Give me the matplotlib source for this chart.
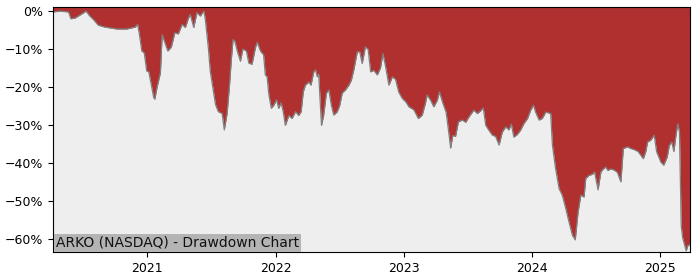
import matplotlib
matplotlib.use("Agg")
import matplotlib.pyplot as plt
import matplotlib.dates as mdates
from matplotlib.ticker import FuncFormatter, FixedLocator
from matplotlib.transforms import offset_copy
import pandas as pd

title = "ARKO (NASDAQ) - Drawdown Chart"

dates = [
    "2020-04-07", "2020-04-27", "2020-05-21", "2020-05-28", "2020-06-09", "2020-07-02",
    "2020-07-10", "2020-07-21", "2020-07-31", "2020-08-14", "2020-09-02", "2020-10-06",
    "2020-11-03", "2020-11-27", "2020-12-04", "2020-12-09", "2020-12-16", "2020-12-23",
    "2020-12-30",
    "2021-01-05", "2021-01-10", "2021-01-19", "2021-01-22", "2021-01-29", "2021-02-07",
    "2021-02-12", "2021-02-28", "2021-03-10", "2021-03-20", "2021-03-30", "2021-04-10",
    "2021-04-19", "2021-04-28", "2021-05-03", "2021-05-13", "2021-05-22", "2021-06-01",
    "2021-06-07", "2021-06-11", "2021-06-15", "2021-06-24", "2021-06-29", "2021-07-08",
    "2021-07-14", "2021-07-22", "2021-08-02", "2021-08-08", "2021-08-16", "2021-08-23",
    "2021-08-28", "2021-09-02", "2021-09-07", "2021-09-14", "2021-09-23", "2021-09-30",
    "2021-10-10", "2021-10-17", "2021-10-26", "2021-11-05", "2021-11-10", "2021-11-19",
    "2021-11-28", "2021-12-03", "2021-12-08", "2021-12-13", "2021-12-20", "2021-12-27",
    "2022-01-04", "2022-01-10", "2022-01-17", "2022-01-23", "2022-01-29", "2022-02-08",
    "2022-02-17", "2022-02-27", "2022-03-08", "2022-03-15", "2022-03-21", "2022-03-27",
    "2022-04-06", "2022-04-12", "2022-04-20", "2022-04-25", "2022-04-30", "2022-05-04",
    "2022-05-09", "2022-05-12", "2022-05-18", "2022-05-26", "2022-06-02", "2022-06-09",
    "2022-06-16", "2022-06-26", "2022-07-03", "2022-07-10", "2022-07-19", "2022-07-29",
    "2022-08-05", "2022-08-12", "2022-08-22", "2022-08-29", "2022-09-05", "2022-09-14",
    "2022-09-22", "2022-09-29", "2022-10-08", "2022-10-18", "2022-10-27", "2022-11-03",
    "2022-11-10", "2022-11-20", "2022-11-30", "2022-12-09", "2022-12-18", "2022-12-28",
    "2023-01-07", "2023-01-16", "2023-01-30", "2023-02-12", "2023-02-23", "2023-03-04",
    "2023-03-09", "2023-03-19", "2023-03-28", "2023-04-07", "2023-04-13", "2023-04-23",
    "2023-05-02", "2023-05-08", "2023-05-15", "2023-05-21", "2023-05-29", "2023-06-06",
    "2023-06-17", "2023-06-27", "2023-07-06", "2023-07-16", "2023-07-20", "2023-07-30",
    "2023-08-08", "2023-08-16", "2023-08-23", "2023-09-01", "2023-09-11", "2023-09-20",
    "2023-09-30", "2023-10-09", "2023-10-19", "2023-10-28", "2023-11-04", "2023-11-11",
    "2023-11-21", "2023-11-30", "2023-12-10", "2023-12-20", "2023-12-29",
    "2024-01-06", "2024-01-12", "2024-01-22", "2024-01-31", "2024-02-10", "2024-02-24",
    "2024-02-29", "2024-03-09", "2024-03-19", "2024-03-28", "2024-04-07", "2024-04-16",
    "2024-04-26", "2024-05-04", "2024-05-12", "2024-05-20", "2024-05-29", "2024-06-03",
    "2024-06-12", "2024-06-22", "2024-06-28", "2024-07-08", "2024-07-16", "2024-07-23",
    "2024-07-30", "2024-08-05", "2024-08-13", "2024-08-23", "2024-09-01", "2024-09-11",
    "2024-09-18", "2024-09-30", "2024-10-09", "2024-10-19", "2024-10-30", "2024-11-07",
    "2024-11-14", "2024-11-21", "2024-11-26", "2024-12-05", "2024-12-15", "2024-12-22",
    "2025-01-03", "2025-01-11", "2025-01-21", "2025-01-27", "2025-02-03", "2025-02-09",
    "2025-02-15", "2025-02-20", "2025-02-25", "2025-03-02", "2025-03-06", "2025-03-16",
    "2025-03-21", "2025-03-27",
]

drawdown = [
    -0.2, 0.0, -0.2, -2.0, -1.8, -0.5,
    0.0, -1.3, -2.2, -3.7, -4.2, -4.7,
    -4.7, -4.2, -3.5, -6.0, -10.5, -11.0,
    -15.8,
    -16.0, -18.4, -22.8, -23.2, -19.8, -16.3,
    -6.2, -10.5, -9.5, -5.7, -6.0, -3.5,
    -4.3, -1.8, -0.9, -4.3, -0.4, -1.3,
    -0.4, 0.0, -2.2, -10.0, -15.8, -21.0,
    -24.6, -26.5, -27.0, -31.3, -27.0, -19.4,
    -12.8, -7.5, -7.9, -10.5, -13.2, -10.0,
    -10.5, -13.7, -14.0, -9.5, -8.2, -10.5,
    -11.5, -16.8, -17.3, -22.0, -25.6, -24.8,
    -23.4, -25.6, -24.2, -26.5, -30.1, -27.5,
    -28.3, -26.5, -27.5, -26.5, -21.3, -19.5,
    -18.7, -19.5, -16.0, -15.5, -17.3, -16.6,
    -24.8, -30.1, -27.5, -21.6, -20.8, -24.8,
    -27.4, -26.5, -24.8, -21.6, -20.8, -19.5,
    -18.2, -15.5, -10.7, -10.7, -13.8, -9.4,
    -10.1, -16.0, -15.6, -16.8, -15.0, -11.2,
    -14.3, -19.5, -17.3, -18.0, -21.3, -23.0,
    -23.9, -25.2, -26.0, -28.3, -27.4, -24.3,
    -22.1, -23.5, -25.2, -23.5, -21.3, -24.3,
    -26.6, -30.8, -36.1, -32.8, -33.0, -29.2,
    -28.7, -29.3, -27.9, -26.6, -26.1, -27.0,
    -26.3, -25.5, -30.1, -31.4, -32.7, -33.0,
    -35.3, -31.9, -30.5, -31.3, -29.8, -33.2,
    -32.5, -31.4, -29.6, -28.3, -26.1,
    -24.8, -26.6, -28.7, -28.3, -26.6, -27.0,
    -35.3, -41.5, -46.8, -48.5, -52.0, -55.5,
    -59.1, -60.3, -53.0, -48.5, -49.0, -44.1,
    -43.3, -43.0, -42.4, -47.1, -42.4, -41.6,
    -41.1, -42.0, -41.6, -41.9, -42.5, -45.0,
    -36.2, -35.8, -36.2, -36.5, -37.0, -38.0,
    -38.9, -37.0, -34.5, -34.0, -32.7, -37.1,
    -39.8, -40.6, -38.5, -35.4, -34.5, -37.0,
    -32.7, -29.7, -31.9, -56.6, -59.7, -63.2,
    -61.8, -61.5,
]

year_ticks = ["2021", "2022", "2023", "2024", "2025"]
pct_ticks = [0, -10, -20, -30, -40, -50, -60]

x = pd.to_datetime(dates)

fig = plt.figure(figsize=(7.0, 2.8), dpi=100)
ax = fig.add_axes([53 / 700, 1 - 252 / 280, 637 / 700, 245 / 280])
ax.set_facecolor("#eeeeee")

y_top = 1.1
y_bot = min(drawdown) - 0.3
ax.fill_between(x, drawdown, y_top, color="#b03030", linewidth=0)
ax.plot(x, drawdown, color="#808080", linewidth=0.9)

ax.set_xlim(x[0], x[-1])
ax.set_ylim(y_bot, y_top)

ax.xaxis.set_major_locator(FixedLocator([mdates.date2num(pd.Timestamp(y + "-01-01")) for y in year_ticks]))
ax.set_xticklabels(year_ticks)
ax.yaxis.set_major_locator(FixedLocator(pct_ticks))
ax.yaxis.set_major_formatter(FuncFormatter(lambda v, p: f"{v:.0f}%".replace("-", "\u2212")))
ax.tick_params(labelsize=9)

trans = offset_copy(ax.transAxes, fig=fig, x=2.2, y=1.5, units="points")
ax.text(0, 0, title, transform=trans, ha="left", va="bottom", fontsize=10,
        color="#111111",
        bbox=dict(boxstyle="square,pad=0.15", fc="#b4b4b4", ec="none"))

fig.savefig("out.png", dpi=100)
